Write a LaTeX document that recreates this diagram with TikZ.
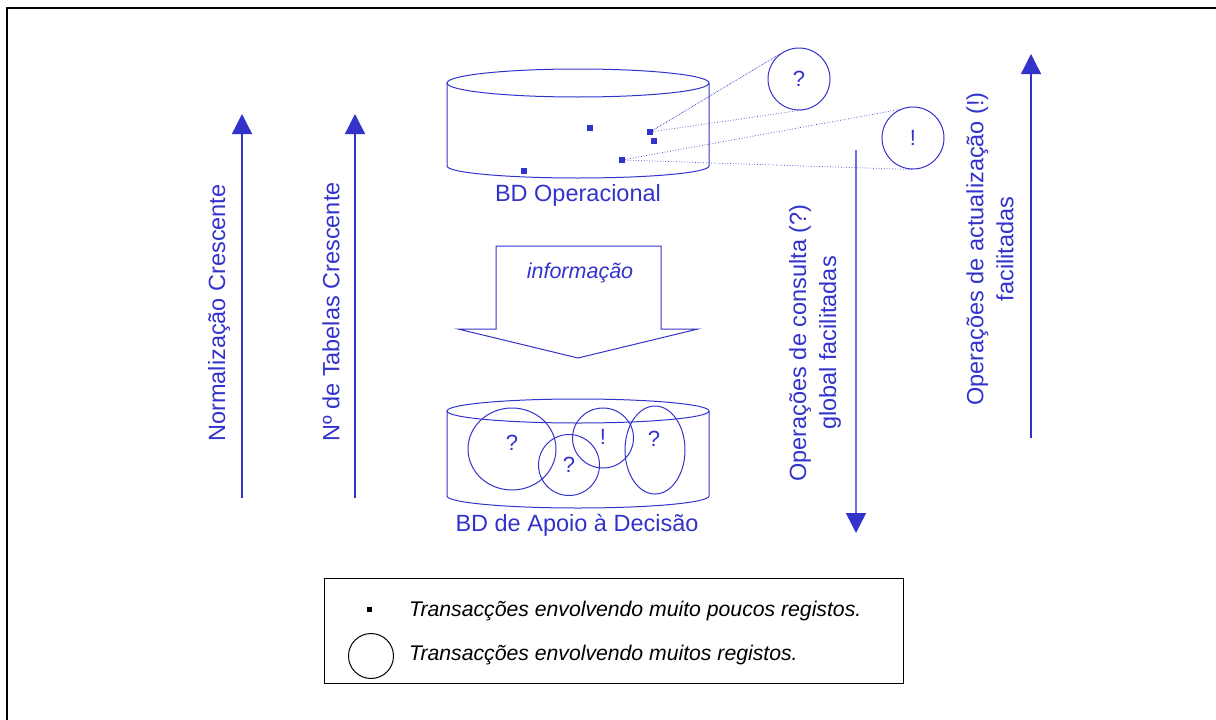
\documentclass[tikz,border=0pt]{standalone}
\usepackage{fontspec}
\setmainfont{Liberation Sans}
\usetikzlibrary{arrows.meta,shapes.geometric}
\definecolor{bl}{RGB}{51,51,204}
\definecolor{lbl}{RGB}{110,110,222}
\tikzset{
  lab/.style={text=bl,font=\fontsize{23.5}{30}\selectfont,align=center,inner sep=0},
  rec/.style={fill=bl,minimum size=5.5pt,inner sep=0,draw=none},
  tx/.style={circle,draw=bl,line width=1pt,inner sep=0,text=bl,font=\fontsize{22}{24}\selectfont},
  oval/.style={ellipse,draw=bl,line width=1pt,inner sep=0,text=bl,font=\fontsize{22}{24}\selectfont},
  arr/.style={draw=bl,line width=1.3pt,-{Triangle[width=20pt,length=20pt]}},
  dots/.style={draw=bl,line width=0.7pt,dotted},
  cyl/.style={draw=bl,line width=1pt},
  legtext/.style={anchor=west,inner sep=0,font=\fontsize{21.2}{24}\selectfont\itshape}
}
\begin{document}
\begin{tikzpicture}[x=1pt,y=-1pt]
\useasboundingbox (0,0) rectangle (1216,720);
% frame
\draw[black,line width=2pt] (7,720) -- (7,8) -- (1216,8);

% left arrows
\coordinate (a1s) at (242,498); \coordinate (a1e) at (242,114);
\draw[arr] (a1s) -- (a1e);
\node[lab,rotate=90] (l1) at (219,313) {Normalização Crescente};
\coordinate (a2s) at (355,498); \coordinate (a2e) at (355,114);
\draw[arr] (a2s) -- (a2e);
\node[lab,rotate=90] (l2) at (331,312) {Nº de Tabelas Crescente};

% top cylinder
\draw[cyl] (578,83) ellipse [x radius=131, y radius=14];
\draw[cyl] (447,83) -- (447,166) arc[start angle=180,end angle=0,x radius=131,y radius=12] -- (709,83);
\node[rec] (s1) at (590,128) {};
\node[rec] (s2) at (650,132) {};
\node[rec] (s3) at (654,141) {};
\node[rec] (s4) at (622,160) {};
\node[rec] (s5) at (524,171) {};
\node[lab] (bdo) at (578,195) {BD Operacional};

% top circles
\node[tx,minimum size=62pt] (qa) at (799,79) {?};
\node[tx,minimum size=62pt] (ex) at (913,138) {!};
\draw[dots,densely dotted] (s2) -- (qa.127);
\draw[dots] (s2) -- (qa.286);
\draw[dots] (s4) -- (ex.115);
\draw[dots] (s4) -- (ex.268);

% block arrow
\draw[cyl] (496,246) -- (661,246) -- (661,329) -- (698,329) -- (578,358) -- (458,329) -- (496,329) -- cycle;
\node[lab,font=\fontsize{21.5}{24}\selectfont\itshape] (info) at (580,273) {informação};

% bottom cylinder
\draw[cyl] (578,411) ellipse [x radius=131, y radius=12];
\draw[cyl] (447,411) -- (447,496) arc[start angle=180,end angle=0,x radius=131,y radius=12] -- (709,411);
\node[oval,minimum width=88pt,minimum height=82pt] (c1) at (512,449) {};
\node[text=bl,font=\fontsize{22}{24}\selectfont] (t1) at (512,443) {?};
\node[tx,minimum size=61pt] (c2) at (569,465) {?};
\node[oval,minimum width=61pt,minimum height=60pt] (c3) at (603,438) {};
\node[text=bl,font=\fontsize{22}{24}\selectfont] (t3) at (603,437) {!};
\node[oval,minimum width=60pt,minimum height=88pt] (c4) at (655,450) {};
\node[text=bl,font=\fontsize{22}{24}\selectfont] (t4) at (654,439) {?};
\node[lab] (bda) at (577,525) {BD de Apoio à Decisão};

% right arrows
\coordinate (a3s) at (856,150); \coordinate (a3e) at (856,533);
\draw[arr,draw=lbl,line width=1.5pt,-{Triangle[width=20pt,length=20pt,color=bl]}] (a3s) -- (a3e);
\node[lab,rotate=90] (l3) at (815,343) {Operações de consulta (?)\\global facilitadas};
\coordinate (a4s) at (1031,438); \coordinate (a4e) at (1031,54);
\draw[arr] (a4s) -- (a4e);
\node[lab,rotate=90] (l4) at (990,249) {Operações de actualização (!)\\facilitadas};

% legend
\node[draw=black,line width=0.8pt,minimum width=579pt,minimum height=105pt,inner sep=0] (leg) at (613.5,630.5) {};
\node[fill=black,minimum size=5pt,inner sep=0] (ls) at (369,609) {};
\node[circle,draw=black,line width=1pt,minimum size=45pt,inner sep=0] (lc) at (371,656) {};
\node[legtext] (lt1) at (409,611) {Transacções envolvendo muito poucos registos.};
\node[legtext] (lt2) at (409,655) {Transacções envolvendo muitos registos.};
\end{tikzpicture}
\end{document}
